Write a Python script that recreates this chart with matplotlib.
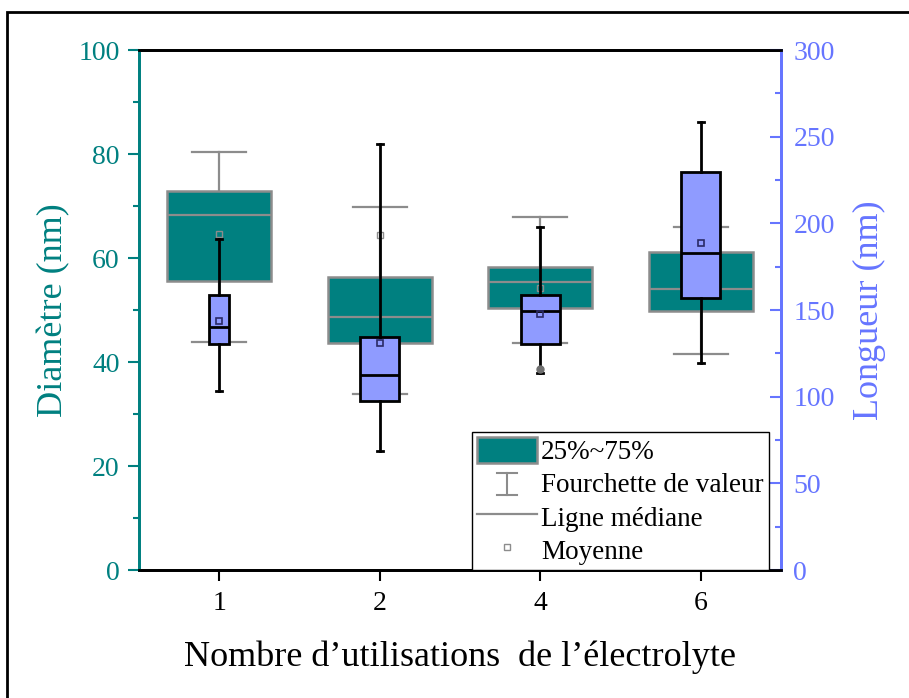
import numpy as np
from matplotlib import pyplot as plt
from matplotlib.patches import Patch, Rectangle
from matplotlib.lines import Line2D
from matplotlib.legend_handler import HandlerBase

plt.rcParams['font.family'] = ['Liberation Serif', 'DejaVu Serif']

# categories (nombre d'utilisations)
labels = ['1', '2', '4', '6']

# diametre (nm), axe gauche : min, q1, mediane, q3, max, moyenne
d_min = [43.8, 33.8, 43.6, 41.5]
d_q1 = [55.6, 43.7, 50.4, 49.9]
d_med = [68.3, 48.6, 55.3, 54.0]
d_q3 = [72.8, 56.4, 58.2, 61.1]
d_max = [80.4, 69.9, 67.8, 66.0]
d_mean = [64.7, 64.4, 54.2, 55.5]

# longueur (nm), axe droit
l_min = [103.5, 68.7, 113.8, 119.6]
l_q1 = [130.6, 97.5, 130.4, 156.7]
l_med = [140.0, 112.7, 149.6, 183.1]
l_q3 = [158.7, 134.3, 158.7, 229.6]
l_max = [190.8, 245.6, 197.9, 258.7]
l_mean = [143.8, 130.8, 147.7, 188.5]
l_fliers = [[], [], [116.0], []]

TEAL = '#008080'
BLUE = '#6675FF'
BLUE_FILL = '#8F9BFF'
GREY = '#8C8C8C'


def stats(lo, q1, med, q3, hi, mean, fliers=None):
    out = []
    for i in range(len(lo)):
        out.append({'whislo': lo[i], 'q1': q1[i], 'med': med[i], 'q3': q3[i],
                    'whishi': hi[i], 'mean': mean[i],
                    'fliers': fliers[i] if fliers else []})
    return out


class HandlerRange(HandlerBase):
    # petit "I" gris pour la fourchette
    def create_artists(self, legend, orig_handle, xdescent, ydescent, width, height, fontsize, trans):
        xc = width / 2 - xdescent
        y0, y1 = -ydescent + height * 0.05, height * 0.9 - ydescent
        w = width * 0.17
        arts = [Line2D([xc, xc], [y0, y1]), Line2D([xc - w, xc + w], [y0, y0]),
                Line2D([xc - w, xc + w], [y1, y1])]
        for a in arts:
            a.set_color(GREY)
            a.set_linewidth(1.5)
            a.set_transform(trans)
        return arts


fig = plt.figure(figsize=(9.09, 6.98), dpi=100)
ax = fig.add_axes([139 / 909, 128 / 698, 642 / 909, 520 / 698])
ax2 = ax.twinx()

pos = np.arange(1, len(labels) + 1)

ax.bxp(stats(d_min, d_q1, d_med, d_q3, d_max, d_mean), positions=pos,
       widths=0.648, capwidths=0.336, showmeans=True, patch_artist=True, showfliers=False,
       boxprops=dict(facecolor=TEAL, edgecolor=GREY, linewidth=1.8),
       whiskerprops=dict(color=GREY, linewidth=1.6),
       capprops=dict(color=GREY, linewidth=1.6),
       medianprops=dict(color=GREY, linewidth=1.6),
       meanprops=dict(marker='s', markersize=5, markerfacecolor='none',
                      markeredgecolor=GREY, markeredgewidth=1))

ax2.bxp(stats(l_min, l_q1, l_med, l_q3, l_max, l_mean, l_fliers), positions=pos,
        widths=[0.125, 0.243, 0.243, 0.243], capwidths=0.04, showmeans=True,
        patch_artist=True, showfliers=True,
        boxprops=dict(facecolor=BLUE_FILL, edgecolor='black', linewidth=2),
        whiskerprops=dict(color='black', linewidth=2),
        capprops=dict(color='black', linewidth=2),
        medianprops=dict(color='black', linewidth=2),
        meanprops=dict(marker='s', markersize=5, markerfacecolor='none',
                       markeredgecolor='#2A2A66', markeredgewidth=1.2),
        flierprops=dict(marker='o', markersize=5, markerfacecolor='#707070',
                        markeredgecolor='#707070'))

ax.set_xlim(0.5, 4.5)
ax.set_ylim(0, 100)
ax2.set_ylim(0, 300)
ax.set_xticks(pos)
ax.set_xticklabels(labels)
ax.set_yticks(np.arange(0, 101, 20))
ax.set_yticks(np.arange(10, 100, 20), minor=True)
ax2.set_yticks(np.arange(0, 301, 50))
ax2.set_yticks(np.arange(25, 300, 50), minor=True)

ax.tick_params(axis='x', direction='out', length=8, width=1.5, pad=7, labelsize=20, colors='black')
ax.tick_params(axis='y', which='major', direction='out', length=8, width=1.5, pad=6,
               labelsize=20, colors=TEAL)
ax.tick_params(axis='y', which='minor', direction='out', length=4, width=1.5, colors=TEAL)
ax2.tick_params(axis='y', which='major', direction='in', length=8, width=1.5, pad=9,
                labelsize=20, colors=BLUE)
ax2.tick_params(axis='y', which='minor', direction='in', length=4, width=1.5, colors=BLUE)

for a in (ax, ax2):
    a.spines['top'].set_linewidth(2)
    a.spines['bottom'].set_linewidth(2)
    a.spines['left'].set_color(TEAL)
    a.spines['left'].set_linewidth(2)
    a.spines['right'].set_color(BLUE)
    a.spines['right'].set_linewidth(2)

ax.set_ylabel('Diamètre (nm)', fontsize=26, color=TEAL)
ax.yaxis.set_label_coords(-0.107, 0.5)
ax2.set_ylabel('Longueur (nm)', fontsize=26, color=BLUE)
ax2.yaxis.set_label_coords(1.112, 0.5)
ax.set_xlabel('Nombre d’utilisations  de l’électrolyte', fontsize=26)
ax.xaxis.set_label_coords(0.5, -0.135)

handles = [Patch(facecolor=TEAL, edgecolor=GREY, linewidth=1.8),
           'range',
           Line2D([], [], color=GREY, linewidth=1.6),
           Line2D([], [], linestyle='none', marker='s', markersize=5,
                  markerfacecolor='none', markeredgecolor=GREY, markeredgewidth=1)]
names = ['25%~75%', 'Fourchette de valeur', 'Ligne médiane', 'Moyenne']
leg = ax2.legend(handles, names, loc='lower right', bbox_to_anchor=(0.981, 0.0),
                 fontsize=19.5, frameon=True, fancybox=False, edgecolor='black',
                 framealpha=1, borderaxespad=0, handlelength=2.2, handleheight=1.1,
                 handletextpad=0.15, labelspacing=0.18, borderpad=0.2,
                 handler_map={str: HandlerRange()})
leg.get_frame().set_linewidth(1)

# cadre exterieur
fig.add_artist(Rectangle((7 / 909, -0.1), 1.2, (698 - 12) / 698 + 0.1,
                         transform=fig.transFigure, fill=False, edgecolor='black',
                         linewidth=2, clip_on=False))

fig.savefig('out.png', dpi=100)
